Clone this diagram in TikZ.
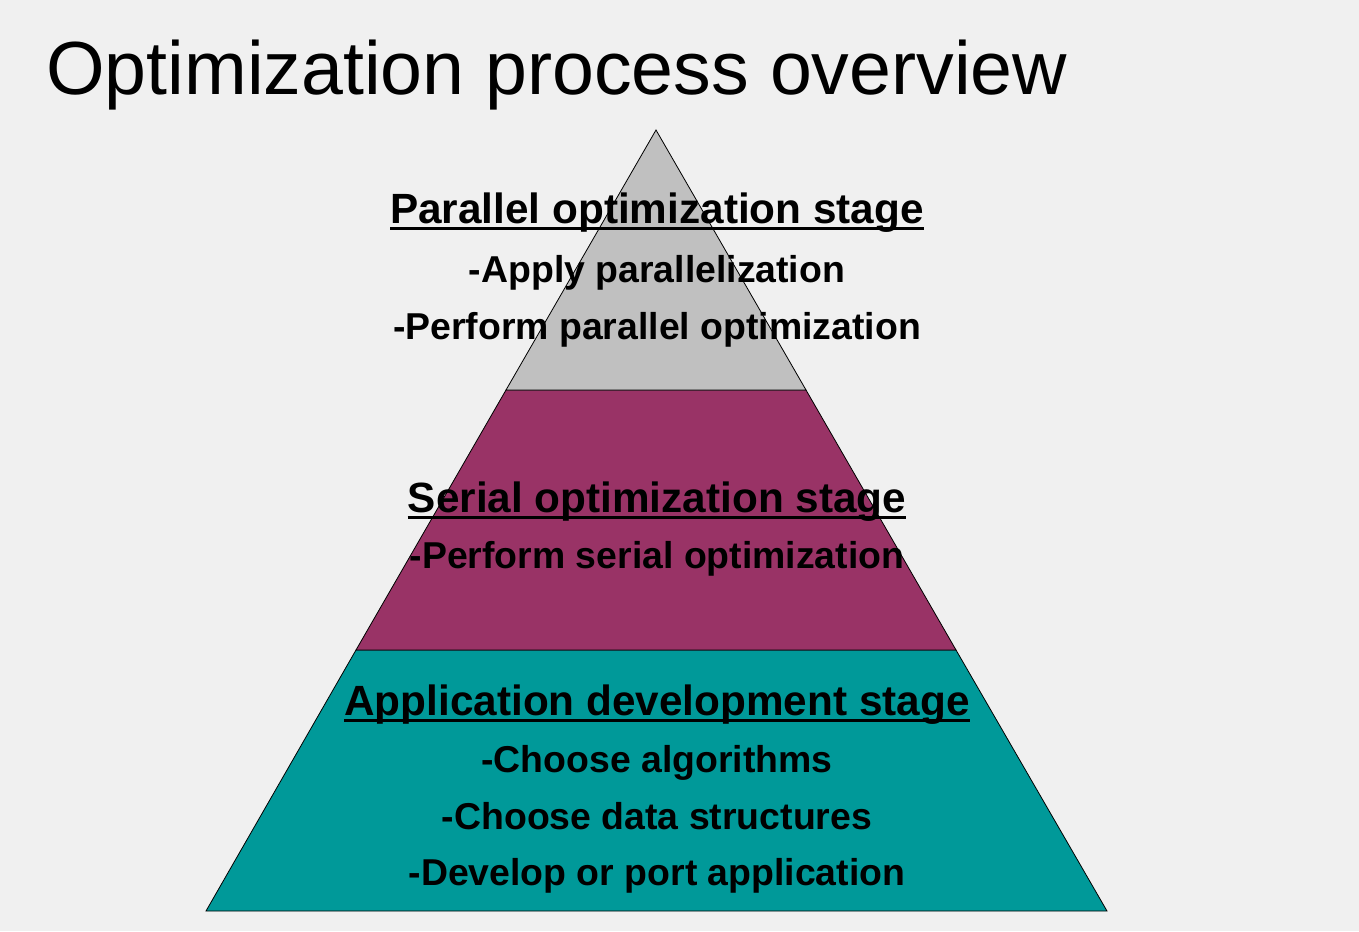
\documentclass[tikz,border=0pt]{standalone}
\usepackage{fontspec}
\setmainfont{Liberation Sans}
\definecolor{pagegray}{HTML}{F0F0F0}
\definecolor{parallelgray}{HTML}{C0C0C0}
\definecolor{serialred}{HTML}{993366}
\definecolor{devteal}{HTML}{009999}
\begin{document}
\begin{tikzpicture}[x=1pt,y=-1pt,
  stage/.style={draw=black,line width=0.8pt},
  head/.style={font=\fontsize{42.3}{50}\selectfont\bfseries,inner sep=0pt,anchor=base},
  item/.style={font=\fontsize{37.4}{44}\selectfont\bfseries,inner sep=0pt,anchor=base}]
  % Draw background
  \fill[pagegray] (0,0) rectangle (1359,931);
  \useasboundingbox (0,0) rectangle (1359,931);
  % Draw title
  \node[font=\fontsize{75.3}{90}\selectfont,inner sep=0pt,anchor=base west] (title) at (46,95) {Optimization process overview};
  % Draw pyramid layers
  \filldraw[fill=devteal,stage] (206,911) -- (356,650) -- (956,650) -- (1107,911) -- cycle;
  \filldraw[fill=serialred,stage] (356,650) -- (506,390) -- (806,390) -- (956,650) -- cycle;
  \filldraw[fill=parallelgray,stage] (506,390) -- (656,130) -- (806,390) -- cycle;
  % Draw stage headings
  \node[head] (parhead) at (657,223) {Parallel optimization stage};
  \node[head] (serhead) at (657,512) {Serial optimization stage};
  \node[head] (apphead) at (657,715) {Application development stage};
  % Underline headings
  \foreach \h in {parhead,serhead,apphead}
    \draw[line width=2.8pt] ([yshift=-5.5pt]\h.base west) -- ([yshift=-5.5pt]\h.base east);
  % Draw stage items
  \foreach \n/\y/\txt in {par1/282/-Apply parallelization,par2/339/-Perform parallel optimization,
      ser1/568/-Perform serial optimization,
      app1/772/-Choose algorithms,app2/829/-Choose data structures,app3/885/-Develop or port application}
    \node[item] (\n) at (657,\y) {\txt};
\end{tikzpicture}
\end{document}
